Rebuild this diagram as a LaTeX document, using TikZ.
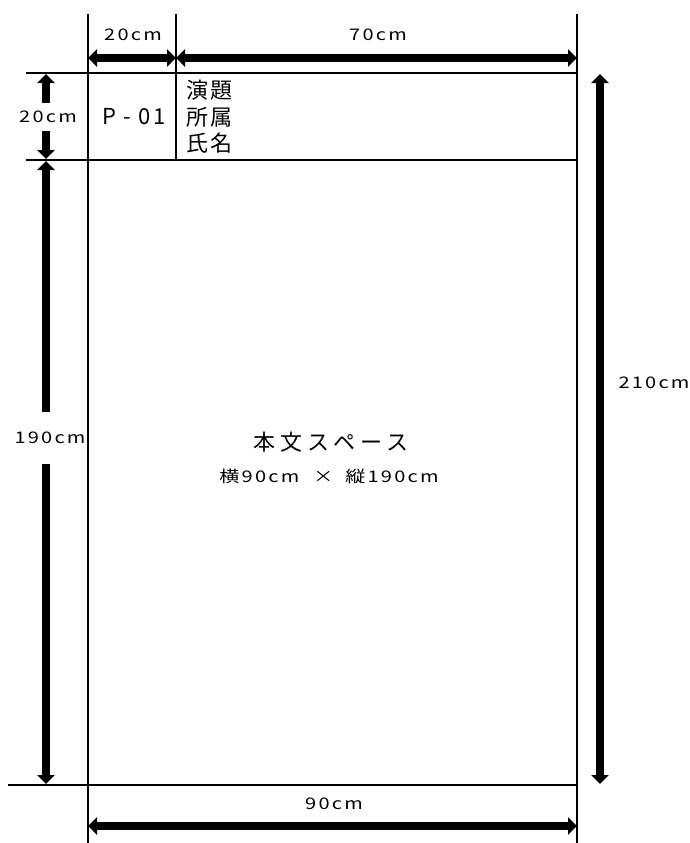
\documentclass[tikz,border=0pt]{standalone}
\usepackage{fontspec}
\setmainfont{Noto Sans CJK JP}
\newfontfamily\dimfont[FakeStretch=1.25, LetterSpace=14]{Noto Sans CJK JP}
\newfontfamily\headfont[LetterSpace=12]{Noto Sans CJK JP}
\newfontfamily\bodyfont[LetterSpace=23]{Noto Sans CJK JP}
\usetikzlibrary{arrows.meta, positioning}
\tikzset{
  >={Triangle[length=9pt,width=17pt]},
  frame/.style = {line width=1.2pt},
  dim/.style = {line width=8pt, <->},
  dimhalf/.style = {line width=8pt, ->},
  dimlabel/.style = {font=\dimfont\fontsize{16}{18}\selectfont, inner sep=0pt},
}

\begin{document}
\begin{tikzpicture}[x=1pt, y=-1pt,
            title/.style = {font=\headfont\fontsize{22}{26.5}\selectfont, inner sep=0pt},
            body/.style  = {font=\bodyfont\fontsize{22}{26}\selectfont, inner sep=0pt},
        ]
        \useasboundingbox (0,0) rectangle (689,843);
        % frame
        \draw[frame] (88,14) -- (88,843);
        \draw[frame] (176,14) -- (176,160);
        \draw[frame] (577,14) -- (577,843);
        \draw[frame] (26,73) -- (577,73);
        \draw[frame] (26,160) -- (577,160);
        \draw[frame] (8,785) -- (577,785);

        % ends of the dimension arrows
        \coordinate (w20l) at (88,58);
        \coordinate (w20r) at (176,58);
        \coordinate (w70r) at (577,58);
        \coordinate (w90l) at (88,826);
        \coordinate (w90r) at (577,826);
        \coordinate (h20t) at (46,74);
        \coordinate (h20b) at (46,159);
        \coordinate (h190t) at (46,161);
        \coordinate (h190b) at (46,784);
        \coordinate (h210t) at (600,74);
        \coordinate (h210b) at (600,784);

        \node[dimlabel] (w20) at (133,35) {20cm};
        \node[dimlabel] (w70) at (378,35) {70cm};
        \node[dimlabel] (w90) at (334,804) {90cm};
        \node[dimlabel] (h210) at (654,383) {210cm};
        \node[dimlabel, minimum height=28pt] (h20) at (48,117) {20cm};
        \node[dimlabel, minimum height=52pt] (h190) at (50,438) {190cm};

        \draw[dim] (w20l) -- (w20r);
        \draw[dim] (w20r) -- (w70r);
        \draw[dim] (w90l) -- (w90r);
        \draw[dim] (h210t) -- (h210b);
        \draw[dimhalf] (h20.north -| h20t) -- (h20t);
        \draw[dimhalf] (h20.south -| h20b) -- (h20b);
        \draw[dimhalf] (h190.north -| h190t) -- (h190t);
        \draw[dimhalf] (h190.south -| h190b) -- (h190b);

        % header
        \node[title] (num) at (134,117) {P - 01};
        \node[title, anchor=west, align=left] (head) at (186,117) {演題\\所属\\氏名};

        % body
        \node[body] (space) at (331,442) {本文スペース};
        \node[dimlabel] (size) at (329,476)
            {横90cm\hspace{14pt}×\hspace{12pt}縦190cm};

        \end{tikzpicture}
\end{document}
